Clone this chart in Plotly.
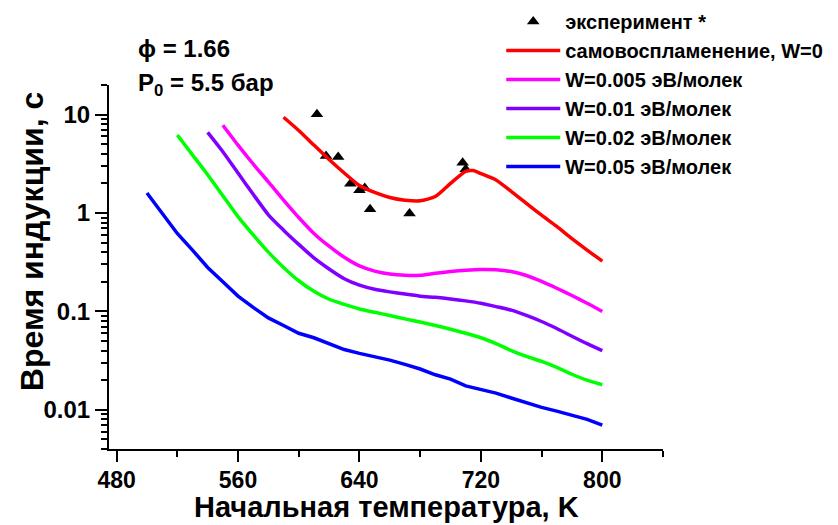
import plotly.graph_objects as go

# Experimental ignition delays
T_exp = [612, 618, 626, 634, 640, 643.5, 647, 673, 708, 710]
tau_exp = [10.1, 3.8, 3.7, 1.98, 1.7, 1.8, 1.09, 0.99, 3.25, 2.78]

# Autoignition, W = 0
T_w0 = [590, 600, 610, 620, 630, 640, 650, 660, 670, 680, 690, 700, 710, 715,
        720, 730, 740, 750, 760, 770, 780, 790, 800]
tau_w0 = [9.4, 6.9, 4.9, 3.5, 2.55, 1.9, 1.62, 1.44, 1.35, 1.33, 1.47, 2.0, 2.65, 2.7,
          2.52, 2.17, 1.66, 1.25, 0.95, 0.73, 0.55, 0.42, 0.325]

# W = 0.005 eV/molecule
T_w005 = [550, 560, 570, 580, 590, 600, 610, 620, 630, 640, 650, 660, 670, 680,
          690, 700, 710, 720, 730, 740, 750, 760, 770, 780, 790, 800]
tau_w005 = [7.8, 4.9, 3.15, 2.07, 1.35, 0.9, 0.62, 0.46, 0.355, 0.29, 0.257, 0.24, 0.233, 0.233,
            0.244, 0.254, 0.262, 0.267, 0.265, 0.254, 0.232, 0.202, 0.172, 0.145, 0.121, 0.10]

# W = 0.01 eV/molecule
T_w01 = [540, 550, 560, 570, 580, 590, 600, 610, 620, 630, 640, 650, 660, 670,
         680, 690, 700, 710, 720, 730, 740, 750, 760, 770, 780, 790, 800]
tau_w01 = [6.6, 4.2, 2.55, 1.55, 0.96, 0.67, 0.48, 0.35, 0.27, 0.215, 0.185, 0.168, 0.158, 0.150,
           0.143, 0.139, 0.134, 0.128, 0.121, 0.112, 0.103, 0.091, 0.079, 0.067, 0.056, 0.047, 0.040]

# W = 0.02 eV/molecule
T_w02 = [520, 530, 540, 550, 560, 570, 580, 590, 600, 610, 620, 630, 640, 650, 660,
         670, 680, 690, 700, 710, 720, 730, 740, 750, 760, 770, 780, 790, 800]
tau_w02 = [6.2, 3.9, 2.45, 1.5, 0.92, 0.6, 0.40, 0.28, 0.205, 0.16, 0.133, 0.118, 0.106, 0.098, 0.091,
           0.084, 0.078, 0.072, 0.066, 0.060, 0.054, 0.047, 0.040, 0.035, 0.031, 0.027, 0.023, 0.020, 0.018]

# W = 0.05 eV/molecule
T_w05 = [500, 510, 520, 530, 540, 550, 560, 570, 580, 590, 600, 610, 620, 630, 640, 650,
         660, 670, 680, 690, 700, 710, 720, 730, 740, 750, 760, 770, 780, 790, 800]
tau_w05 = [1.6, 1.0, 0.62, 0.42, 0.28, 0.20, 0.143, 0.11, 0.086, 0.072, 0.060, 0.054, 0.047, 0.041,
           0.0375, 0.035, 0.032, 0.029, 0.026, 0.0227, 0.0205, 0.0175, 0.016, 0.0148, 0.0132,
           0.0118, 0.0106, 0.0097, 0.0089, 0.0080, 0.0070]

x_ticks = [480, 560, 640, 720, 800]
x_minor = [520, 600, 680, 760, 840]
y_ticks = [0.01, 0.1, 1, 10]
y_ticktext = ["0.01", "0.1", "1", "10"]

FONT = "Liberation Sans, Arial, sans-serif"

fig = go.Figure()

fig.add_trace(go.Scatter(
    x=T_exp, y=tau_exp, mode="markers", name="эксперимент *",
    marker=dict(symbol="triangle-up", size=11, color="black"),
))

series = [
    (T_w0, tau_w0, "самовоспламенение, W=0", "#FF0000", "spline"),
    (T_w005, tau_w005, "W=0.005 эВ/молек", "#FF00FF", "spline"),
    (T_w01, tau_w01, "W=0.01 эВ/молек", "#8000FF", "spline"),
    (T_w02, tau_w02, "W=0.02 эВ/молек", "#00FF00", "spline"),
    (T_w05, tau_w05, "W=0.05 эВ/молек", "#0000FF", "linear"),
]
for xs, ys, name, color, shape in series:
    fig.add_trace(go.Scatter(
        x=xs, y=ys, mode="lines", name=name,
        line=dict(color=color, width=3.5, shape=shape, smoothing=0.6),
    ))

# minor ticks on the log axis: 2..9 within each decade
y_minor = []
for p in range(-3, 2):
    for d in range(2, 10):
        v = d * 10 ** p
        if 0.004 <= v <= 20:
            y_minor.append(v)

axis_font = dict(family=FONT, size=23, color="black", weight="bold")

fig.update_layout(
    width=838, height=525,
    margin=dict(l=109, r=175, t=85, b=76, autoexpand=False),
    paper_bgcolor="white", plot_bgcolor="white",
    font=dict(family=FONT, color="black"),
    showlegend=True,
    legend=dict(
        x=0.708, y=1.228, xanchor="left", yanchor="top",
        font=dict(family=FONT, size=20, color="black", weight="bold"),
        bgcolor="rgba(0,0,0,0)", itemwidth=54, tracegroupgap=0,
    ),
    xaxis=dict(
        range=[475, 840], tickvals=x_ticks, ticktext=[str(v) for v in x_ticks],
        ticks="outside", ticklen=11, tickwidth=2, tickcolor="black",
        showline=True, linecolor="black", linewidth=2, mirror=False,
        showgrid=False, zeroline=False, tickfont=axis_font, ticklabelstandoff=-2,
        minor=dict(tickvals=x_minor, ticks="outside", ticklen=6, tickwidth=2,
                   tickcolor="black", showgrid=False),
    ),
    yaxis=dict(
        type="log", range=[-2.398, 1.301], tickvals=y_ticks, ticktext=y_ticktext,
        ticks="outside", ticklen=12, tickwidth=2, tickcolor="black",
        showline=True, linecolor="black", linewidth=2, mirror=False,
        showgrid=False, zeroline=False, tickfont=dict(axis_font, size=24),
        minor=dict(tickvals=y_minor, ticks="outside", ticklen=6, tickwidth=2,
                   tickcolor="black", showgrid=False),
    ),
)

# axis titles
fig.add_annotation(
    text="Начальная температура, K", xref="paper", yref="paper",
    x=0.5, y=-0.2088, xanchor="center", yanchor="bottom", showarrow=False,
    font=dict(family=FONT, size=29, color="black", weight="bold"),
)
fig.add_annotation(
    text="Время индукции, с", xref="paper", yref="paper",
    x=-0.139, y=0.571, xanchor="center", yanchor="middle", showarrow=False,
    textangle=-90,
    font=dict(family=FONT, size=32, color="black", weight="bold"),
)

# conditions
fig.add_annotation(
    text="ϕ = 1.66", xref="paper", yref="paper",
    x=0.0487, y=1.099, xanchor="left", yanchor="middle", showarrow=False,
    font=dict(family=FONT, size=24, color="black", weight="bold"),
)
fig.add_annotation(
    text="P<sub>0</sub> = 5.5 бар", xref="paper", yref="paper",
    x=0.0487, y=1.0027, xanchor="left", yanchor="middle", showarrow=False,
    font=dict(family=FONT, size=24, color="black", weight="bold"),
)

fig.write_html("out.html")
